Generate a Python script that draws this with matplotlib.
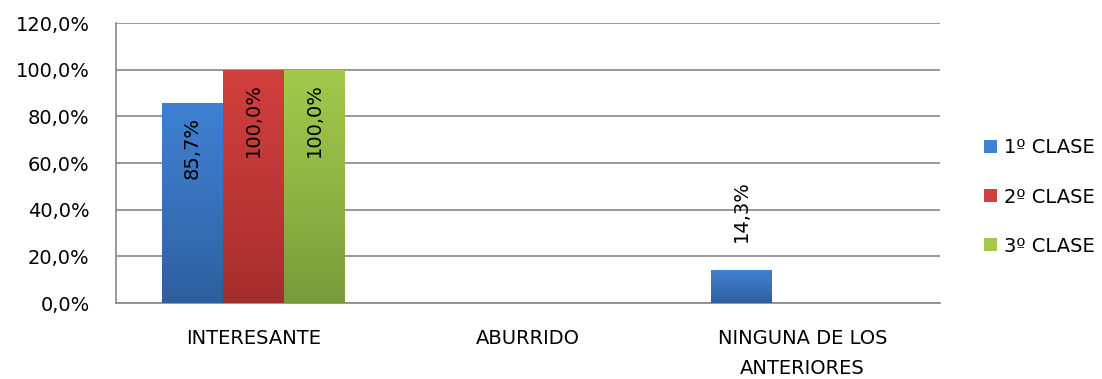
import matplotlib
matplotlib.use("Agg")
import matplotlib.pyplot as plt
import numpy as np
from matplotlib.colors import LinearSegmentedColormap
from matplotlib.patches import Patch

plt.rcParams["font.family"] = ["DejaVu Sans"]

# ---- data ----
categories = ["INTERESANTE", "ABURRIDO", "NINGUNA DE LOS\nANTERIORES"]
series_names = ["1º CLASE", "2º CLASE", "3º CLASE"]
clase1 = [85.7, 0.0, 14.3]
clase2 = [100.0, 0.0, 0.0]
clase3 = [100.0, 0.0, 0.0]
yticks = [0, 20, 40, 60, 80, 100, 120]

# gradient colours (top, bottom) per series
grads = [("#3F80D2", "#2D5D9B"), ("#D13F3E", "#A22D2C"), ("#A2C94C", "#76993A")]
FS = 14

fig = plt.figure(figsize=(11.02, 3.79), dpi=100)
ax = fig.add_axes([0.1053, 0.2005, 0.853 - 0.1053, 0.9393 - 0.2005])

x = np.arange(len(categories))
width = 0.222
series = [clase1, clase2, clase3]

for i, (vals, (ctop, cbot)) in enumerate(zip(series, grads)):
    offs = (i - 1) * width
    bars = ax.bar(x + offs, vals, width, color=cbot, linewidth=0, zorder=3)
    cmap = LinearSegmentedColormap.from_list("g%d" % i, [cbot, ctop])
    grad = np.linspace(0, 1, 256).reshape(-1, 1) ** 0.8
    for b, v in zip(bars, vals):
        if v <= 0:
            continue
        x0, y0 = b.get_x(), b.get_y()
        im = ax.imshow(grad, cmap=cmap, origin="lower", aspect="auto",
                       extent=[x0, x0 + b.get_width(), y0, y0 + b.get_height()],
                       zorder=3.5)
        im.set_clip_path(b)
        # labels
        txt = ("%.1f%%" % v).replace(".", ",")
        if v > 50:
            ax.annotate(txt, (x0 + b.get_width() / 2, v), xytext=(0, -10),
                        textcoords="offset points", rotation=90,
                        ha="center", va="top", fontsize=FS, zorder=5)
        else:
            ax.annotate(txt, (x0 + b.get_width() / 2, v), xytext=(0, 20),
                        textcoords="offset points", rotation=90,
                        ha="center", va="bottom", fontsize=FS, zorder=5)

ax.set_xlim(-0.5, len(categories) - 0.5)
ax.set_ylim(0, 120)
ax.set_yticks(yticks)
ax.set_yticklabels([("%.1f%%" % t).replace(".", ",") for t in yticks], fontsize=FS)
ax.set_xticks(x)
ax.set_xticklabels(categories, fontsize=FS, linespacing=1.7)
ax.tick_params(axis="x", length=0, pad=19)
ax.tick_params(axis="y", length=0, pad=19)

ax.grid(axis="y", color="#868686", linewidth=1.2, zorder=0)
for s in ["top", "right"]:
    ax.spines[s].set_visible(False)
for s in ["left", "bottom"]:
    ax.spines[s].set_color("#868686")
    ax.spines[s].set_linewidth(1.2)

handles = [Patch(facecolor=c[0], edgecolor="none") for c in grads]
fig.legend(handles, series_names, loc="center left", bbox_to_anchor=(0.884, 0.48),
           frameon=False, fontsize=FS, handlelength=0.65, handleheight=0.65,
           handletextpad=0.4, labelspacing=1.55, borderpad=0)

fig.savefig("out.png", dpi=100)
